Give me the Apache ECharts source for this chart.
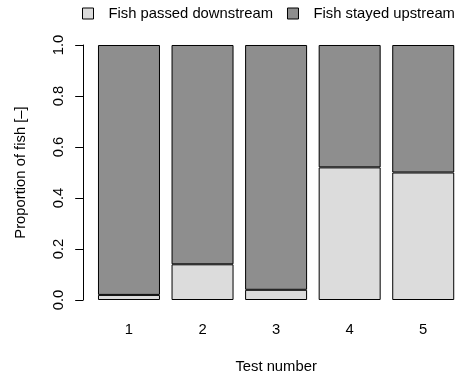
<!DOCTYPE html>
<html>
<head>
<meta charset="utf-8">
<script src="https://cdn.jsdelivr.net/npm/echarts@6/dist/echarts.min.js"></script>
<style>
  html, body { margin: 0; padding: 0; background: #ffffff; }
  #chart { width: 460px; height: 379px; }
</style>
</head>
<body>
<div id="chart"></div>
<script>
// Proportion of fish that passed vs. stayed, per test
const tests = ['1', '2', '3', '4', '5'];
const passedDownstream = [0.02, 0.14, 0.04, 0.52, 0.50];
const stayedUpstream = [0.98, 0.86, 0.96, 0.48, 0.50];
const yTicks = [0, 0.2, 0.4, 0.6, 0.8, 1.0];

const FONT = '"Liberation Sans", Arial, Helvetica, sans-serif';
const FS = 14.8;
const LIGHT = '#dcdcdc';
const DARK = '#8e8e8e';

const chart = echarts.init(document.getElementById('chart'), null, { renderer: 'canvas' });

chart.setOption({
  animation: false,
  backgroundColor: '#ffffff',
  textStyle: { fontFamily: FONT, color: '#000' },
  legend: {
    left: 82,
    top: 6,
    padding: 0,
    itemGap: 14,
    itemWidth: 11,
    itemHeight: 11,
    icon: 'rect',
    textStyle: { fontFamily: FONT, fontSize: FS, color: '#000', padding: [0, 0, 0, 10] },
    itemStyle: { borderColor: '#000', borderWidth: 1 },
    data: ['Fish passed downstream', 'Fish stayed upstream']
  },
  grid: { left: 92.2, width: 370.4, top: 45, height: 256 },
  xAxis: {
    type: 'category',
    data: tests,
    axisLine: { show: false },
    axisTick: { show: false },
    axisLabel: { fontFamily: FONT, fontSize: FS, color: '#000', margin: 22 },
    name: 'Test number',
    nameLocation: 'middle',
    nameGap: 59,
    nameTextStyle: { fontFamily: FONT, fontSize: FS, color: '#000' }
  },
  yAxis: {
    type: 'value',
    min: 0,
    max: 1,
    interval: 0.2,
    offset: 9,
    splitLine: { show: false },
    axisLine: { show: true, lineStyle: { color: '#000', width: 1 } },
    axisTick: { show: true, length: 8, lineStyle: { color: '#000', width: 1 } },
    axisLabel: {
      fontFamily: FONT, fontSize: FS, color: '#000', rotate: 90, margin: 17,
      formatter: v => yTicks.some(t => Math.abs(t - v) < 1e-9) ? v.toFixed(1) : ''
    },
    name: 'Proportion of fish [–]',
    nameLocation: 'middle',
    nameGap: 55,
    nameRotate: 90,
    nameTextStyle: { fontFamily: FONT, fontSize: FS, color: '#000' }
  },
  series: [
    {
      name: 'Fish passed downstream',
      type: 'bar',
      stack: 'fish',
      barWidth: 62,
      data: passedDownstream,
      itemStyle: { color: LIGHT, borderColor: '#000', borderWidth: 1 }
    },
    {
      name: 'Fish stayed upstream',
      type: 'bar',
      stack: 'fish',
      barWidth: 62,
      data: stayedUpstream,
      itemStyle: { color: DARK, borderColor: '#000', borderWidth: 1 }
    }
  ]
});
</script>
</body>
</html>
